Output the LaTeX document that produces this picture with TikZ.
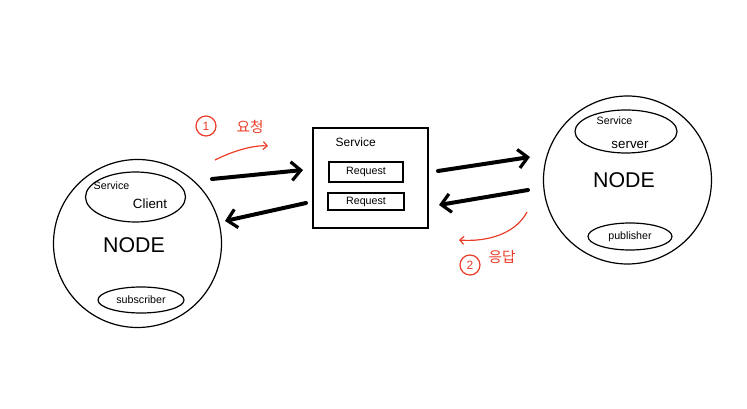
\documentclass[tikz,border=0pt]{standalone}
\usepackage{fontspec}
\setmainfont{Liberation Sans}
\newfontfamily\krfont{Noto Sans CJK KR}
\usetikzlibrary{arrows.meta,shapes.geometric}
\definecolor{redpen}{RGB}{235,60,40}
\begin{document}
\begin{tikzpicture}[x=0.75pt,y=-0.75pt,
  outline/.style={draw=black,line width=0.9pt},
  bigarrow/.style={line width=3pt,line cap=round,-{Straight Barb[length=7pt,width=14pt,line width=2.4pt]}},
  redarrow/.style={draw=redpen,line width=0.9pt,-{Straight Barb[length=3pt,width=6pt]}},
  lbl/.style={font=\fontsize{8}{9}\selectfont},
  nodelbl/.style={font=\fontsize{16}{18}\selectfont}]
\useasboundingbox (0,0) rectangle (747,409);
% left node
\node[outline,circle,minimum size=168*0.75pt,inner sep=0] (lc) at (137.5,243.5) {};
\node[outline,ellipse,minimum width=100*0.75pt,minimum height=50*0.75pt,inner sep=0] (lsc) at (135.5,197) {};
\node[lbl,anchor=west] (lsct) at (89,186) {Service};
\node[lbl,font=\fontsize{10}{11}\selectfont] (lsct2) at (150,204) {Client};
\node[nodelbl] (lnode) at (134,245) {NODE};
\node[outline,ellipse,minimum width=86*0.75pt,minimum height=26*0.75pt,inner sep=0] (lsub) at (141,300) {};
\node[lbl] (lsubt) at (141,300) {subscriber};
% service box
\node[outline,minimum width=115*0.75pt,minimum height=100*0.75pt,inner sep=0] (svc) at (370.5,178) {};
\node[lbl,font=\fontsize{9}{10}\selectfont,anchor=west] (svct) at (331,142) {Service};
\node[outline,minimum width=74*0.75pt,minimum height=20*0.75pt,inner sep=0] (rq1) at (366,172) {};
\node[lbl] at (rq1) {Request};
\node[outline,minimum width=76*0.75pt,minimum height=17*0.75pt,inner sep=0] (rq2) at (366,201.5) {};
\node[lbl] at (rq2) {Request};
% right node
\node[outline,circle,minimum size=168*0.75pt,inner sep=0] (rc) at (627.5,180) {};
\node[outline,ellipse,minimum width=102*0.75pt,minimum height=43*0.75pt,inner sep=0] (rss) at (626,131.5) {};
\node[lbl,anchor=west] (rsst) at (592,121) {Service};
\node[lbl,font=\fontsize{10}{11}\selectfont] (rsst2) at (630,145) {server};
\node[nodelbl] (rnode) at (624,180) {NODE};
\node[outline,ellipse,minimum width=84*0.75pt,minimum height=27*0.75pt,inner sep=0] (rpub) at (630,236.5) {};
\node[lbl] (rpubt) at (630,236.5) {publisher};
% arrow endpoints
\coordinate (a1s) at (212,179); \coordinate (a1e) at (303,170);
\coordinate (a2s) at (306,203); \coordinate (a2e) at (225,221);
\coordinate (a3s) at (438,171); \coordinate (a3e) at (530,157);
\coordinate (a4s) at (528,190); \coordinate (a4e) at (439,205);
\draw[bigarrow] (a1s) -- (a1e);
\draw[bigarrow] (a2s) -- (a2e);
\draw[bigarrow] (a3s) -- (a3e);
\draw[bigarrow] (a4s) -- (a4e);
% red annotations
\node[draw=redpen,circle,line width=0.9pt,minimum size=20*0.75pt,inner sep=0,text=redpen,font=\fontsize{9}{10}\selectfont] (n1) at (206,126) {1};
\node[text=redpen,font=\krfont\fontsize{11}{12}\selectfont] (req) at (250,127) {요청};
\coordinate (r1s) at (215,160); \coordinate (r1e) at (268,146);
\draw[redarrow] (r1s) .. controls (235,150) and (255,145) .. (r1e);
\coordinate (r2s) at (527,212); \coordinate (r2e) at (459,240);
\draw[redarrow] (r2s) .. controls (515,235) and (485,242) .. (r2e);
\node[draw=redpen,circle,line width=0.9pt,minimum size=20*0.75pt,inner sep=0,text=redpen,font=\fontsize{9}{10}\selectfont] (n2) at (470,265) {2};
\node[text=redpen,font=\krfont\fontsize{11}{12}\selectfont] (resp) at (502,257) {응답};
\end{tikzpicture}
\end{document}
